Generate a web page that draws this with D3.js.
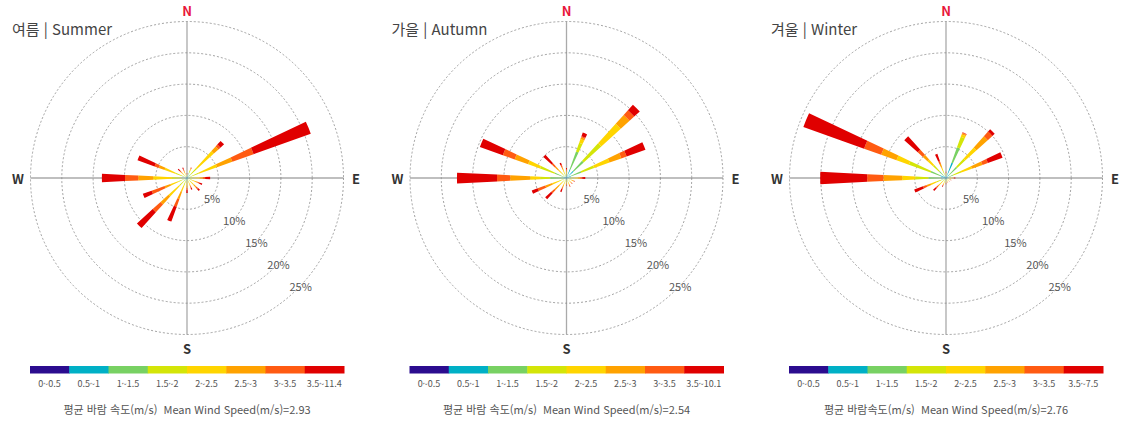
<!DOCTYPE html>
<html lang="ko">
<head>
<meta charset="utf-8">
<title>Wind rose by season</title>
<script src="https://d3js.org/d3.v7.min.js"></script>
<style>
  body { margin: 0; background: #fff; }
  text { font-family: "Noto Sans CJK KR", "Noto Sans", sans-serif; }
</style>
</head>
<body>
<div id="chart"></div>
<script>
// 16 compass directions, clockwise from north
var directions = ["N","NNE","NE","ENE","E","ESE","SE","SSE","S","SSW","SW","WSW","W","WNW","NW","NNW"];

// wind speed bins (m/s) and their colours
var speedBins = ["0-0.5","0.5-1","1-1.5","1.5-2","2-2.5","2.5-3","3-3.5","3.5+"];
var binColors = ["#2b0c8f","#00b0c6","#78d163","#d4e508","#ffd500","#ffa200","#ff5b12","#e00000"];

// frequency (%) per direction (rows) and speed bin (columns)
var summerFreq = [
  [0.05,0.05,0.1,0.2,0.1,0.1,0.1,0.1],
  [0.1,0.5,0.4,0.3,0.2,0.1,0.1,0.1],
  [0.05,0.25,0.5,1.4,3.6,1.0,0.4,0.8],
  [0.05,0.15,0.4,1.4,3.1,2.6,3.6,9.7],
  [0.05,0.15,0.3,0.7,0.8,0.5,0.4,0.8],
  [0.05,0.1,0.25,0.5,0.5,0.4,0.3,0.5],
  [0.05,0.1,0.25,0.5,0.6,0.5,0.4,0.4],
  [0.05,0.05,0.2,0.4,0.4,0.3,0.3,0.3],
  [0.05,0.05,0.2,0.4,0.5,0.4,0.3,0.5],
  [0.05,0.15,0.3,0.8,1.0,1.3,1.3,2.5],
  [0.05,0.2,0.45,1.0,2.3,1.7,1.7,3.4],
  [0.05,0.2,0.35,0.9,1.3,1.0,2.2,1.5],
  [0.05,0.25,0.6,1.5,3.0,2.4,2.1,3.7],
  [0.05,0.25,0.5,1.2,1.8,1.0,0.7,2.9],
  [0.05,0.05,0.2,0.3,0.4,0.3,0.3,0.4],
  [0.05,0.05,0.2,0.3,0.3,0.3,0.3,0.3]
];
var autumnFreq = [
  [0.05,0.15,0.2,0.3,0.3,0.2,0.2,0.2],
  [0.1,1.4,3.0,1.5,0.6,0.3,0.2,0.6],
  [0.1,1.4,2.2,3.8,4.2,1.9,1.0,1.2],
  [0.05,0.75,1.7,2.2,2.6,2.0,0.9,3.2],
  [0.05,0.25,0.4,0.5,0.6,0.4,0.3,0.5],
  [0.05,0.15,0.2,0.3,0.3,0.2,0.1,0.1],
  [0.05,0.1,0.2,0.25,0.3,0.2,0.1,0.1],
  [0.05,0.1,0.25,0.3,0.3,0.2,0.2,0.1],
  [0.05,0.05,0.2,0.2,0.3,0.2,0.1,0.1],
  [0.05,0.1,0.25,0.4,0.4,0.4,0.3,0.5],
  [0.05,0.1,0.25,0.5,0.7,1.0,0.7,1.3],
  [0.05,0.15,0.4,0.7,1.1,1.2,1.3,1.0],
  [0.05,0.45,2.1,1.6,1.6,3.2,2.1,6.4],
  [0.05,0.35,1.6,2.5,2.0,2.3,2.0,3.9],
  [0.05,0.15,0.3,0.5,0.8,0.7,0.7,1.8],
  [0.05,0.15,0.3,0.4,0.5,0.4,0.4,0.4]
];
var winterFreq = [
  [0.05,0.1,0.15,0.2,0.2,0.1,0.1,0.1],
  [0.1,2.5,2.6,1.8,0.4,0.2,0.1,0.05],
  [0.05,0.75,1.6,1.8,2.4,2.4,1.0,0.5],
  [0.05,0.35,0.8,1.4,1.8,1.8,0.9,2.5],
  [0.05,0.15,0.2,0.3,0.3,0.2,0.1,0.2],
  [0.05,0.1,0.15,0.2,0.15,0.1,0.1,0.05],
  [0.05,0.1,0.15,0.15,0.15,0.1,0.05,0.05],
  [0.05,0.1,0.15,0.15,0.15,0.1,0.05,0.05],
  [0.05,0.1,0.15,0.2,0.2,0.1,0.1,0.1],
  [0.05,0.1,0.25,0.3,0.3,0.2,0.1,0.2],
  [0.05,0.15,0.3,0.4,0.5,0.4,0.4,0.6],
  [0.05,0.25,0.5,0.8,1.0,0.7,0.6,1.5],
  [0.05,0.75,2.0,2.1,2.1,3.0,2.6,7.5],
  [0.05,0.95,1.6,3.7,2.1,2.6,2.9,10.3],
  [0.05,0.45,1.0,1.3,1.2,1.0,1.1,2.9],
  [0.05,0.15,0.4,0.6,0.6,0.6,0.5,1.2]
];

var seasonTitles = ["여름 | Summer", "가을 | Autumn", "겨울 | Winter"];
var legendLabels = [
  ["0~0.5","0.5~1","1~1.5","1.5~2","2~2.5","2.5~3","3~3.5","3.5~11.4"],
  ["0~0.5","0.5~1","1~1.5","1.5~2","2~2.5","2.5~3","3~3.5","3.5~10.1"],
  ["0~0.5","0.5~1","1~1.5","1.5~2","2~2.5","2.5~3","3~3.5","3.5~7.5"]
];
var meanLabels = [
  "평균 바람 속도(m/s)  Mean Wind Speed(m/s)=2.93",
  "평균 바람 속도(m/s)  Mean Wind Speed(m/s)=2.54",
  "평균 바람속도(m/s)  Mean Wind Speed(m/s)=2.76"
];
var ringTicks = [5, 10, 15, 20, 25];
var seasons = [summerFreq, autumnFreq, winterFreq];

// ---- layout ----
var width = 1127, height = 427;
var centersX = [187, 566.5, 946], centerY = 178;
var outerR = 156.5;

var svg = d3.select("#chart").append("svg")
    .attr("width", width)
    .attr("height", height);

// angle scale: each direction gets a narrow band centred on its bearing
var step = 2 * Math.PI / directions.length;
var x = d3.scaleBand()
    .domain(directions)
    .range([-step / 2, 2 * Math.PI - step / 2])
    .paddingInner(0.75)
    .paddingOuter(0.375);

var y = d3.scaleLinear().domain([0, 25]).range([0, outerR]);

var color = d3.scaleOrdinal().domain(speedBins).range(binColors);

var arc = d3.arc()
    .innerRadius(function(d) { return y(d[0]); })
    .outerRadius(function(d) { return y(d[1]); })
    .startAngle(function(d) { return x(d.data.dir); })
    .endAngle(function(d) { return x(d.data.dir) + x.bandwidth(); });

seasons.forEach(function(freq, si) {
  var cx = centersX[si];
  var g = svg.append("g").attr("transform", "translate(" + cx + "," + centerY + ")");

  // rows -> objects for d3.stack
  var rows = freq.map(function(r, i) {
    var o = { dir: directions[i] };
    speedBins.forEach(function(b, j) { o[b] = r[j]; });
    return o;
  });
  var series = d3.stack().keys(speedBins)(rows);

  // cross lines
  g.append("line").attr("x1", -outerR).attr("x2", outerR).attr("y1", 0).attr("y2", 0)
    .attr("stroke", "#aaa").attr("stroke-width", 1.3);
  g.append("line").attr("y1", -outerR).attr("y2", outerR).attr("x1", 0).attr("x2", 0)
    .attr("stroke", "#aaa").attr("stroke-width", 1.3);

  // dashed rings
  g.selectAll(".ring").data(ringTicks).enter().append("circle")
    .attr("class", "ring")
    .attr("r", function(d) { return y(d); })
    .attr("fill", "none")
    .attr("stroke", "#8a8a8a")
    .attr("stroke-width", 0.8)
    .attr("stroke-dasharray", "2,2");

  // stacked wedges
  g.selectAll(".layer").data(series).enter().append("g")
    .attr("class", "layer")
    .attr("fill", function(d) { return color(d.key); })
    .selectAll("path").data(function(d) { return d; }).enter().append("path")
      .attr("d", arc);

  // ring labels along the south-east diagonal
  g.selectAll(".ringLabel").data(ringTicks).enter().append("text")
    .attr("x", function(d) { return y(d) * Math.SQRT1_2 + 3; })
    .attr("y", function(d) { return y(d) * Math.SQRT1_2 - 2.5; })
    .attr("text-anchor", "middle")
    .attr("dominant-baseline", "central")
    .style("font-size", "11px")
    .style("fill", "#555")
    .text(function(d) { return d + "%"; });

  // compass letters
  var compass = [
    { t: "N", x: 0, y: -168, c: "#e8173b" },
    { t: "E", x: 169, y: 0, c: "#333" },
    { t: "S", x: 0, y: 170, c: "#333" },
    { t: "W", x: -169, y: 0, c: "#333" }
  ];
  g.selectAll(".compass").data(compass).enter().append("text")
    .attr("x", function(d) { return d.x; })
    .attr("y", function(d) { return d.y; })
    .attr("text-anchor", "middle")
    .attr("dominant-baseline", "central")
    .style("font-size", "13px")
    .style("font-weight", "bold")
    .style("fill", function(d) { return d.c; })
    .text(function(d) { return d.t; });

  // title
  svg.append("text")
    .attr("x", cx - 175)
    .attr("y", 28)
    .attr("dominant-baseline", "central")
    .style("font-size", "15px")
    .style("fill", "#444")
    .text(seasonTitles[si]);

  // colour legend
  var lx = d3.scaleBand().domain(speedBins).range([cx - 157, cx + 157]);
  svg.selectAll(".leg" + si).data(speedBins).enter().append("rect")
    .attr("x", function(d) { return lx(d); })
    .attr("y", 366)
    .attr("width", lx.bandwidth() + 0.5)
    .attr("height", 7.5)
    .attr("fill", function(d) { return color(d); });
  svg.selectAll(".legt" + si).data(speedBins).enter().append("text")
    .attr("x", function(d) { return lx(d) + lx.bandwidth() / 2; })
    .attr("y", 383)
    .attr("text-anchor", "middle")
    .attr("dominant-baseline", "central")
    .style("font-size", "9px")
    .style("fill", "#555")
    .text(function(d, i) { return legendLabels[si][i]; });

  // mean wind speed note
  svg.append("text")
    .attr("x", cx)
    .attr("y", 409)
    .attr("text-anchor", "middle")
    .attr("dominant-baseline", "central")
    .style("font-size", "11px")
    .style("fill", "#555")
    .style("white-space", "pre")
    .text(meanLabels[si]);
});
</script>
</body>
</html>
